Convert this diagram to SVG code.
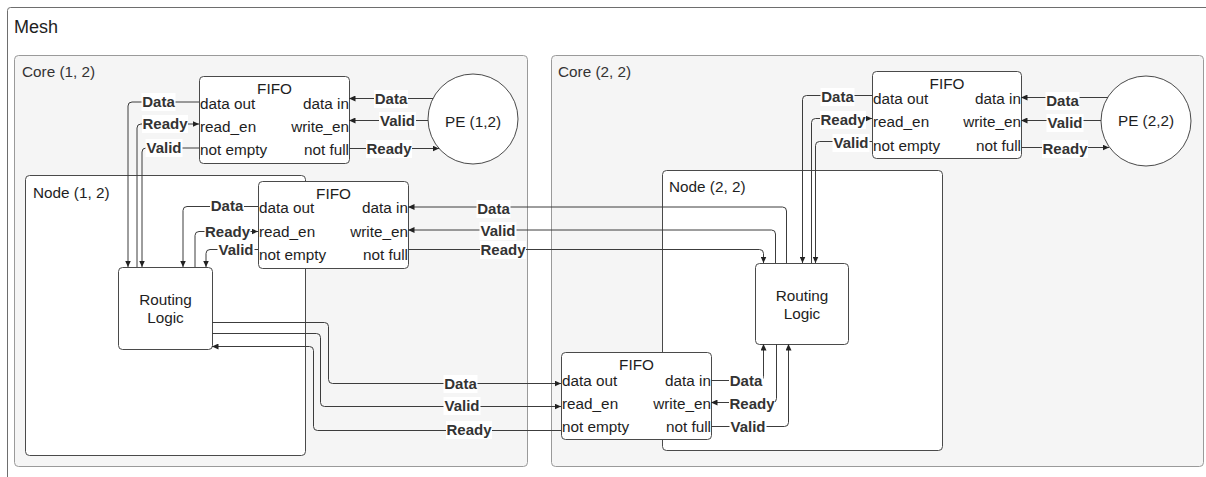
<svg xmlns="http://www.w3.org/2000/svg" width="1206" height="477" viewBox="0 0 1206 477">
  <style>
    text { font-family: "Liberation Sans", Arial, sans-serif; fill: #1e1e1e; }
    .mesh { fill: #ffffff; stroke: #6e6e6e; stroke-width: 1; }
    .core { fill: #f5f5f5; stroke: #9a9a9a; stroke-width: 1; }
    .node { fill: #ffffff; stroke: #4a4a4a; stroke-width: 1; }
    .box { fill: #ffffff; stroke: #4a4a4a; stroke-width: 1; }
    .t18 { font-size: 18px; }
    .tc { font-size: 15.3px; fill: #333333; }
    .t { font-size: 15.3px; }
    .mid { text-anchor: middle; }
    .end { text-anchor: end; }
    .wire { fill: none; stroke: #3c3c3c; stroke-width: 1; }
    .arr { marker-end: url(#tip); }
    .lbl rect { fill: #ffffff; }
    .lbl text { font-size: 15px; font-weight: bold; fill: #333333; text-anchor: middle; }
  </style>
  <defs>
    <marker id="tip" markerUnits="userSpaceOnUse" markerWidth="7" markerHeight="6" refX="6.5" refY="3" orient="auto">
      <path d="M0,0 L6.5,3 L0,6 z" fill="#222222"/>
    </marker>
  </defs>

  <!-- outer container (continues past the right and bottom edges) -->
  <g id="mesh">
    <rect class="mesh" x="7.5" y="7.5" width="1210" height="480" rx="3"/>
    <text class="t18" x="14" y="33">Mesh</text>
  </g>

  <!-- cores -->
  <g id="core-1-2">
    <rect class="core" x="14.5" y="55.5" width="513" height="411" rx="4"/>
    <text class="tc" x="22" y="77">Core (1, 2)</text>
  </g>
  <g id="core-2-2">
    <rect class="core" x="551.5" y="55.5" width="652" height="411" rx="4"/>
    <text class="tc" x="558" y="77">Core (2, 2)</text>
  </g>

  <!-- routing nodes -->
  <g id="node-1-2">
    <rect class="node" x="25.5" y="175.5" width="280" height="280" rx="4"/>
    <text class="t" x="33" y="198">Node (1, 2)</text>
  </g>
  <g id="node-2-2">
    <rect class="node" x="662.5" y="170.5" width="280" height="280" rx="4"/>
    <text class="t" x="669" y="192">Node (2, 2)</text>
  </g>

  <!-- FIFO between PE (1,2) and its router -->
  <g id="fifo-pe-1-2">
    <rect class="box" x="199.5" y="76.5" width="150" height="87" rx="4"/>
    <text class="t mid" x="274.5" y="94">FIFO</text>
    <text class="t" x="200" y="109">data out</text>
    <text class="t" x="200" y="132">read_en</text>
    <text class="t" x="200" y="155">not empty</text>
    <text class="t end" x="349" y="109">data in</text>
    <text class="t end" x="349" y="132">write_en</text>
    <text class="t end" x="349" y="155">not full</text>
  </g>

  <!-- FIFO feeding router (1,2) -->
  <g id="fifo-node-1-2">
    <rect class="box" x="258.5" y="181.5" width="150" height="87" rx="4"/>
    <text class="t mid" x="333.5" y="199">FIFO</text>
    <text class="t" x="259" y="213">data out</text>
    <text class="t" x="259" y="237">read_en</text>
    <text class="t" x="259" y="260">not empty</text>
    <text class="t end" x="408" y="213">data in</text>
    <text class="t end" x="408" y="237">write_en</text>
    <text class="t end" x="408" y="260">not full</text>
  </g>

  <!-- FIFO between PE (2,2) and its router -->
  <g id="fifo-pe-2-2">
    <rect class="box" x="872.5" y="71.5" width="149" height="87" rx="4"/>
    <text class="t mid" x="947" y="89">FIFO</text>
    <text class="t" x="873" y="104">data out</text>
    <text class="t" x="873" y="127">read_en</text>
    <text class="t" x="873" y="151">not empty</text>
    <text class="t end" x="1021" y="104">data in</text>
    <text class="t end" x="1021" y="127">write_en</text>
    <text class="t end" x="1021" y="151">not full</text>
  </g>

  <!-- FIFO feeding router (2,2) -->
  <g id="fifo-node-2-2">
    <rect class="box" x="561.5" y="352.5" width="150" height="87" rx="4"/>
    <text class="t mid" x="636.5" y="370">FIFO</text>
    <text class="t" x="562" y="386">data out</text>
    <text class="t" x="562" y="409">read_en</text>
    <text class="t" x="562" y="432">not empty</text>
    <text class="t end" x="711" y="386">data in</text>
    <text class="t end" x="711" y="409">write_en</text>
    <text class="t end" x="711" y="432">not full</text>
  </g>

  <!-- routing logic blocks -->
  <g id="routing-1-2">
    <rect class="box" x="118.5" y="267.5" width="94" height="82" rx="4"/>
    <text class="t mid" x="165.5" y="305">Routing</text>
    <text class="t mid" x="165.5" y="323">Logic</text>
  </g>
  <g id="routing-2-2">
    <rect class="box" x="755.5" y="263.5" width="93" height="81" rx="4"/>
    <text class="t mid" x="802" y="301">Routing</text>
    <text class="t mid" x="802" y="319">Logic</text>
  </g>

  <!-- processing elements -->
  <g id="pe-1-2">
    <circle class="box" cx="473" cy="119" r="45"/>
    <text class="t mid" x="473" y="127">PE (1,2)</text>
  </g>
  <g id="pe-2-2">
    <circle class="box" cx="1146" cy="121" r="45"/>
    <text class="t mid" x="1146" y="126">PE (2,2)</text>
  </g>

  <!-- signal wires and their labels -->
  <g id="connectors">
    <!-- FIFO (PE 1,2) to router (1,2) -->
    <path class="wire arr" d="M199,102 H132 Q128,102 128,106 V267"/>
    <path class="wire arr" d="M137,267 V128 Q137,124 141,124 H199"/>
    <path class="wire arr" d="M199,148 H146 Q142,148 142,152 V267"/>
    <!-- PE (1,2) to its FIFO -->
    <path class="wire arr" d="M433,98.5 H349"/>
    <path class="wire arr" d="M428,120.5 H349"/>
    <path class="wire arr" d="M349,148.5 H439"/>
    <!-- FIFO (node 1,2) to router (1,2) -->
    <path class="wire arr" d="M258,206.5 H187 Q183,206.5 183,210.5 V267"/>
    <path class="wire arr" d="M195,267 V235.5 Q195,231.5 199,231.5 H258"/>
    <path class="wire arr" d="M258,249.5 H210 Q206,249.5 206,253.5 V267"/>
    <!-- router (2,2) to FIFO (node 1,2) -->
    <path class="wire arr" d="M786.5,263 V211 Q786.5,207 782.5,207 H408"/>
    <path class="wire arr" d="M775.5,263 V234 Q775.5,230 771.5,230 H408"/>
    <path class="wire arr" d="M408,249.5 H759.5 Q763.5,249.5 763.5,253.5 V263"/>
    <!-- FIFO (PE 2,2) to router (2,2) -->
    <path class="wire arr" d="M872,95.5 H806.5 Q802.5,95.5 802.5,99.5 V263"/>
    <path class="wire arr" d="M811.5,263 V122.5 Q811.5,118.5 815.5,118.5 H872"/>
    <path class="wire arr" d="M872,141.5 H819.5 Q815.5,141.5 815.5,145.5 V263"/>
    <!-- PE (2,2) to its FIFO -->
    <path class="wire arr" d="M1108,97.5 H1021"/>
    <path class="wire arr" d="M1101,120.5 H1021"/>
    <path class="wire arr" d="M1021,147.5 H1109"/>
    <!-- router (1,2) to FIFO (node 2,2) -->
    <path class="wire arr" d="M212,322.5 H324.5 Q328.5,322.5 328.5,326.5 V379.5 Q328.5,383.5 332.5,383.5 H561"/>
    <path class="wire arr" d="M212,333.5 H316.5 Q320.5,333.5 320.5,337.5 V402.5 Q320.5,406.5 324.5,406.5 H561"/>
    <path class="wire arr" d="M561,430.5 H317.5 Q313.5,430.5 313.5,426.5 V350.5 Q313.5,346.5 309.5,346.5 H212"/>
    <!-- FIFO (node 2,2) to router (2,2) -->
    <path class="wire arr" d="M711,380.5 H759.5 Q763.5,380.5 763.5,376.5 V344"/>
    <path class="wire arr" d="M776.5,344 V398.5 Q776.5,402.5 772.5,402.5 H711"/>
    <path class="wire arr" d="M711,426.5 H784.5 Q788.5,426.5 788.5,422.5 V344"/>

    <!-- labels -->
    <g class="lbl" transform="translate(158.5,102)"><rect x="-17" y="-9" width="34" height="18"/><text y="5.3">Data</text></g>
    <g class="lbl" transform="translate(165,124)"><rect x="-23" y="-9" width="46" height="18"/><text y="5.3">Ready</text></g>
    <g class="lbl" transform="translate(164,148)"><rect x="-18.5" y="-9" width="37" height="18"/><text y="5.3">Valid</text></g>

    <g class="lbl" transform="translate(391,99)"><rect x="-17" y="-9" width="34" height="18"/><text y="5.3">Data</text></g>
    <g class="lbl" transform="translate(397.5,121)"><rect x="-18.5" y="-9" width="37" height="18"/><text y="5.3">Valid</text></g>
    <g class="lbl" transform="translate(389,149)"><rect x="-23" y="-9" width="46" height="18"/><text y="5.3">Ready</text></g>

    <g class="lbl" transform="translate(227,206)"><rect x="-17" y="-9" width="34" height="18"/><text y="5.3">Data</text></g>
    <g class="lbl" transform="translate(227.5,232)"><rect x="-23" y="-9" width="46" height="18"/><text y="5.3">Ready</text></g>
    <g class="lbl" transform="translate(236,250)"><rect x="-18.5" y="-9" width="37" height="18"/><text y="5.3">Valid</text></g>

    <g class="lbl" transform="translate(493.5,209)"><rect x="-17" y="-9" width="34" height="18"/><text y="5.3">Data</text></g>
    <g class="lbl" transform="translate(498,231)"><rect x="-18.5" y="-9" width="37" height="18"/><text y="5.3">Valid</text></g>
    <g class="lbl" transform="translate(503,250)"><rect x="-23" y="-9" width="46" height="18"/><text y="5.3">Ready</text></g>

    <g class="lbl" transform="translate(837.5,97)"><rect x="-17" y="-9" width="34" height="18"/><text y="5.3">Data</text></g>
    <g class="lbl" transform="translate(843,120)"><rect x="-23" y="-9" width="46" height="18"/><text y="5.3">Ready</text></g>
    <g class="lbl" transform="translate(851,143)"><rect x="-18.5" y="-9" width="37" height="18"/><text y="5.3">Valid</text></g>

    <g class="lbl" transform="translate(1062.5,101)"><rect x="-17" y="-9" width="34" height="18"/><text y="5.3">Data</text></g>
    <g class="lbl" transform="translate(1065,123)"><rect x="-18.5" y="-9" width="37" height="18"/><text y="5.3">Valid</text></g>
    <g class="lbl" transform="translate(1065,149)"><rect x="-23" y="-9" width="46" height="18"/><text y="5.3">Ready</text></g>

    <g class="lbl" transform="translate(460.5,384)"><rect x="-17" y="-9" width="34" height="18"/><text y="5.3">Data</text></g>
    <g class="lbl" transform="translate(462,406)"><rect x="-18.5" y="-9" width="37" height="18"/><text y="5.3">Valid</text></g>
    <g class="lbl" transform="translate(469,430)"><rect x="-23" y="-9" width="46" height="18"/><text y="5.3">Ready</text></g>

    <g class="lbl" transform="translate(746,381)"><rect x="-17" y="-9" width="34" height="18"/><text y="5.3">Data</text></g>
    <g class="lbl" transform="translate(752,404)"><rect x="-23" y="-9" width="46" height="18"/><text y="5.3">Ready</text></g>
    <g class="lbl" transform="translate(748,427)"><rect x="-18.5" y="-9" width="37" height="18"/><text y="5.3">Valid</text></g>
  </g>
</svg>
